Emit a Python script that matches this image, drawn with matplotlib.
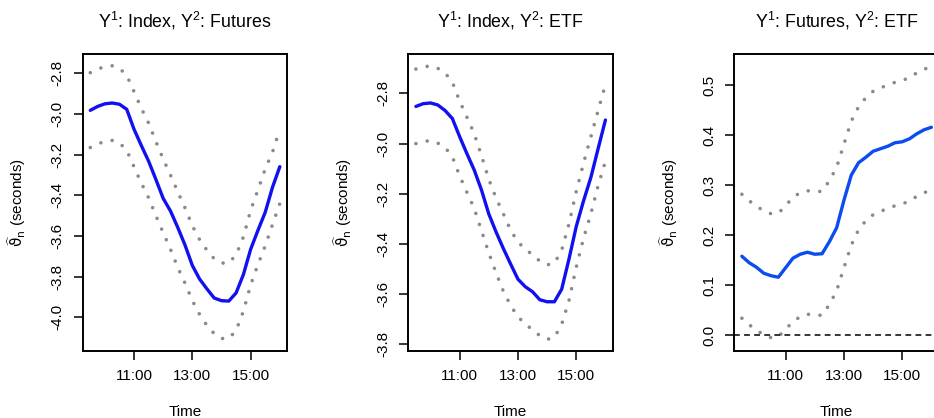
import matplotlib
matplotlib.use("Agg")
import matplotlib.pyplot as plt
import numpy as np

plt.rcParams['font.family'] = ['Liberation Sans', 'DejaVu Sans']
plt.rcParams['mathtext.fontset'] = 'dejavusans'

# sampling times (quarter hours, 09:30 - 16:00)
times = ["09:30", "09:45", "10:00", "10:15", "10:30", "10:45", "11:00",
         "11:15", "11:30", "11:45", "12:00", "12:15", "12:30", "12:45",
         "13:00", "13:15", "13:30", "13:45", "14:00", "14:15", "14:30",
         "14:45", "15:00", "15:15", "15:30", "15:45", "16:00"]

# Y1: Index, Y2: Futures
fut_est = [-2.982, -2.963, -2.950, -2.946, -2.952, -2.977, -3.075, -3.155, -3.232,
           -3.322, -3.415, -3.477, -3.558, -3.645, -3.745, -3.812, -3.860, -3.905,
           -3.918, -3.920, -3.880, -3.790, -3.665, -3.572, -3.483, -3.360, -3.259]
fut_up = [-2.797, -2.780, -2.766, -2.763, -2.775, -2.810, -2.890, -2.972, -3.045,
          -3.135, -3.222, -3.300, -3.383, -3.462, -3.550, -3.618, -3.670, -3.712,
          -3.733, -3.733, -3.693, -3.605, -3.473, -3.373, -3.270, -3.187, -3.075]
fut_lo = [-3.165, -3.148, -3.134, -3.130, -3.142, -3.178, -3.260, -3.340, -3.412,
          -3.500, -3.584, -3.665, -3.755, -3.832, -3.918, -3.986, -4.040, -4.080,
          -4.104, -4.104, -4.065, -3.970, -3.840, -3.740, -3.648, -3.543, -3.440]

# Y1: Index, Y2: ETF
etf_est = [-2.852, -2.841, -2.838, -2.846, -2.868, -2.900, -2.972, -3.040, -3.105,
           -3.185, -3.280, -3.352, -3.418, -3.480, -3.540, -3.570, -3.590, -3.622,
           -3.630, -3.630, -3.580, -3.460, -3.330, -3.228, -3.135, -3.020, -2.906]
etf_up = [-2.703, -2.695, -2.690, -2.700, -2.718, -2.755, -2.830, -2.895, -2.960,
          -3.048, -3.142, -3.217, -3.280, -3.345, -3.392, -3.420, -3.443, -3.468,
          -3.483, -3.477, -3.425, -3.320, -3.190, -3.078, -2.973, -2.868, -2.765]
etf_lo = [-3.000, -2.992, -2.988, -2.998, -3.015, -3.052, -3.128, -3.194, -3.258,
          -3.347, -3.435, -3.515, -3.588, -3.645, -3.690, -3.718, -3.742, -3.765,
          -3.780, -3.772, -3.720, -3.625, -3.492, -3.377, -3.280, -3.167, -3.070]

# Y1: Futures, Y2: ETF
fe_est = [0.158, 0.145, 0.136, 0.124, 0.119, 0.116, 0.135, 0.154, 0.162,
          0.166, 0.162, 0.163, 0.187, 0.215, 0.270, 0.320, 0.345, 0.356,
          0.368, 0.373, 0.378, 0.385, 0.387, 0.393, 0.403, 0.411, 0.416]
fe_up = [0.282, 0.269, 0.258, 0.249, 0.243, 0.244, 0.259, 0.276, 0.285,
         0.289, 0.287, 0.288, 0.309, 0.336, 0.382, 0.428, 0.457, 0.475,
         0.488, 0.495, 0.500, 0.506, 0.510, 0.515, 0.525, 0.532, 0.538]
fe_lo = [0.034, 0.021, 0.010, 0.001, -0.005, -0.003, 0.012, 0.027, 0.037,
         0.042, 0.040, 0.040, 0.061, 0.089, 0.135, 0.180, 0.211, 0.229,
         0.241, 0.248, 0.253, 0.259, 0.263, 0.268, 0.278, 0.285, 0.291]

titles = ["Y$\\mathregular{^1}$: Index, Y$\\mathregular{^2}$: Futures",
          "Y$\\mathregular{^1}$: Index, Y$\\mathregular{^2}$: ETF",
          "Y$\\mathregular{^1}$: Futures, Y$\\mathregular{^2}$: ETF"]
xtick_labels = ["11:00", "13:00", "15:00"]
yticks1 = [-4.0, -3.8, -3.6, -3.4, -3.2, -3.0, -2.8]
yticks2 = [-3.8, -3.6, -3.4, -3.2, -3.0, -2.8]
yticks3 = [0.0, 0.1, 0.2, 0.3, 0.4, 0.5]


def to_hours(t):
    h, m = t.split(":")
    return int(h) + int(m) / 60.0


hrs = np.array([to_hours(t) for t in times])
xt = [to_hours(t) for t in xtick_labels]

W, H = 934, 418
fig = plt.figure(figsize=(W / 100, H / 100), dpi=100)

panels = [
    (82.7, fut_est, fut_up, fut_lo, yticks1, (-4.164, -2.705), '#1010f0', False),
    (408.3, etf_est, etf_up, etf_lo, yticks2, (-3.825, -2.643), '#1010f0', False),
    (734.3, fe_est, fe_up, fe_lo, yticks3, (-0.031, 0.5626), '#0a4cf0', True),
]

for i, (left, est, up, lo, yt, ylim, col, zero) in enumerate(panels):
    ax = fig.add_axes([left / W, 1 - 350.7 / H, 204.7 / W, 296.7 / H])
    dot = dict(color='#8a8a8a', lw=2.6, linestyle=(0, (0.01, 3.2)),
               dash_capstyle='round')
    ax.plot(hrs, up, **dot)
    ax.plot(hrs, lo, **dot)
    ax.plot(hrs, est, color=col, lw=2.4, solid_capstyle='round')
    if zero:
        ax.axhline(0, color='black', lw=1.1, linestyle=(0, (3.8, 2.8)))
    ax.set_xlim(9.24, 16.26)
    ax.set_ylim(*ylim)
    ax.set_xticks(xt)
    ax.set_xticklabels(xtick_labels)
    ax.set_yticks(yt)
    ax.set_yticklabels(["%.1f" % v for v in yt], rotation=90, va='center')
    ax.tick_params(direction='out', length=6.5, width=1.1, labelsize=11,
                   pad=6.5, colors='black')
    for s in ax.spines.values():
        s.set_linewidth(1.4)
    ax.set_title(titles[i], fontsize=12.8, pad=19)
    ax.set_xlabel("Time", fontsize=11)
    ax.xaxis.set_label_coords(0.5, -0.183)
    ax.set_ylabel(r'$\widehat{\mathrm{\vartheta}}_\mathrm{n}$ (seconds)', fontsize=11)
    ax.yaxis.set_label_coords(-0.265, 0.5)

fig.savefig("out.png", dpi=100)
